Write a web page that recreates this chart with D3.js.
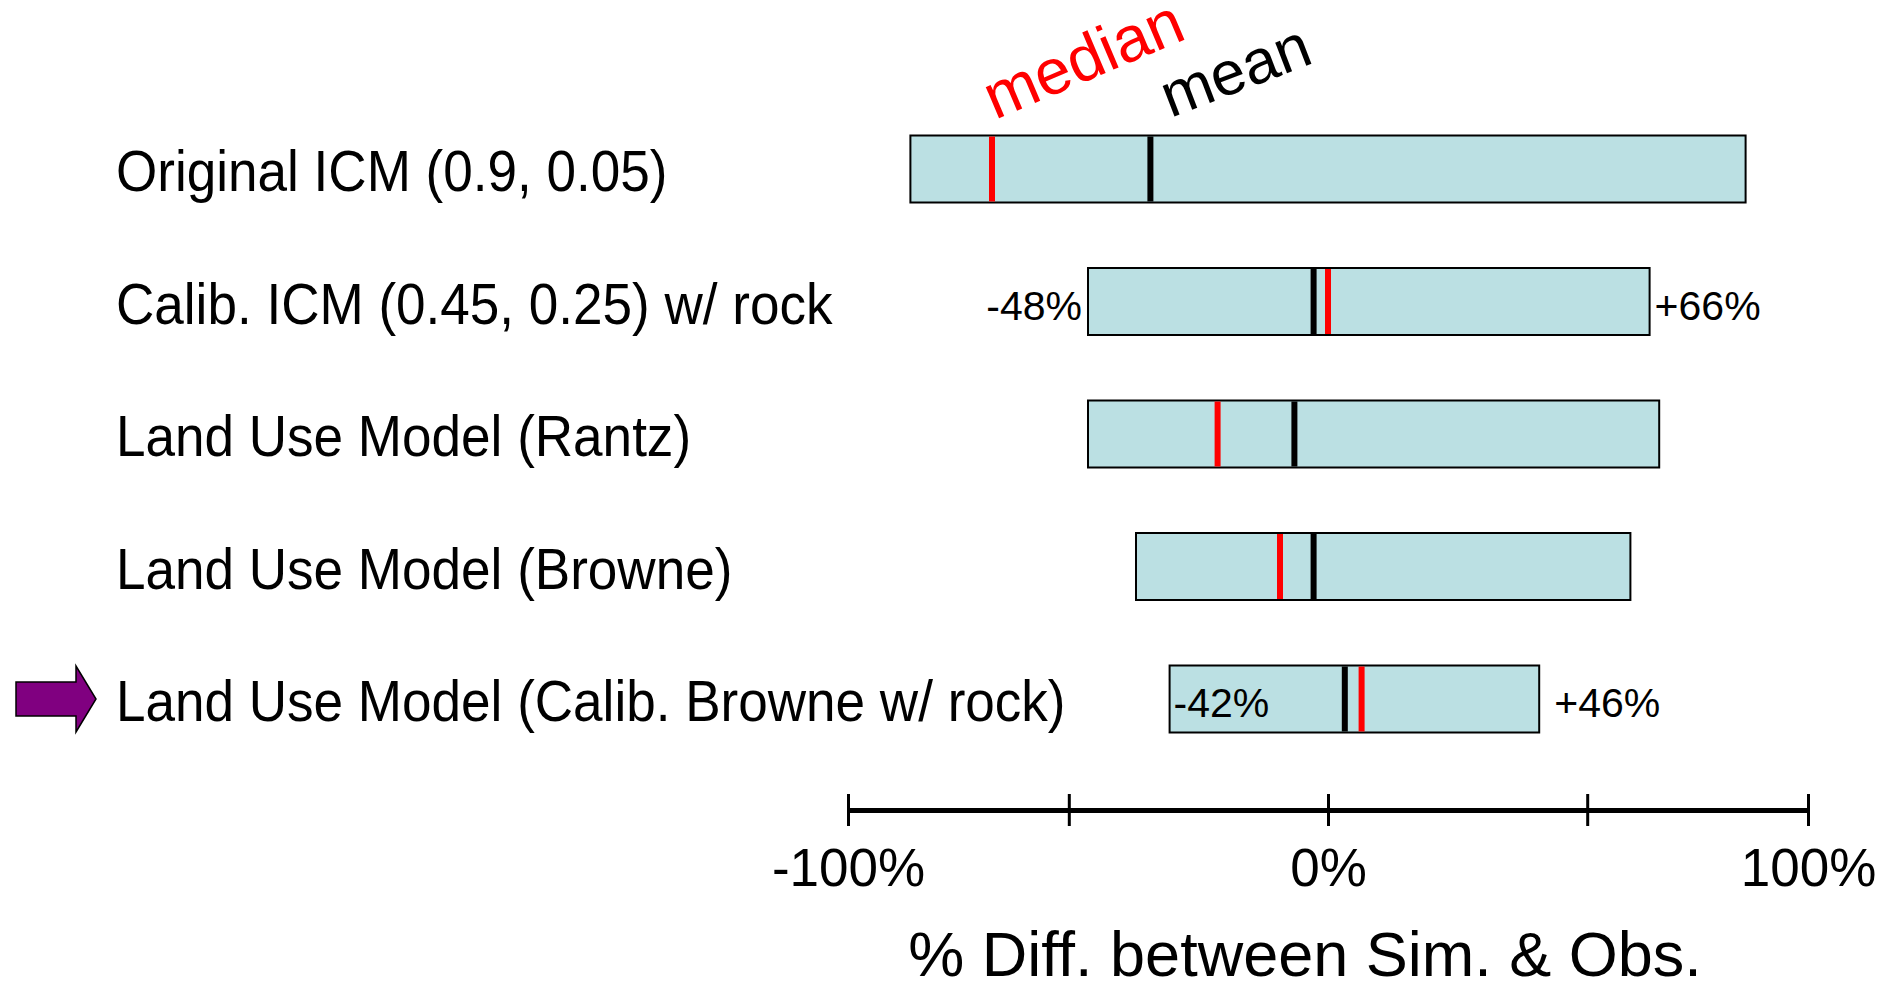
<!DOCTYPE html>
<html>
<head>
<meta charset="utf-8">
<script src="https://cdn.jsdelivr.net/npm/d3@7"></script>
<style>
  body { margin: 0; background: #fff; }
  text { font-family: "Liberation Sans", Arial, sans-serif; }
</style>
</head>
<body>
<svg id="drawing_region"></svg>
<script>
// model rows, top to bottom
const models = [
    "Original ICM (0.9, 0.05)",
    "Calib. ICM (0.45, 0.25) w/ rock",
    "Land Use Model (Rantz)",
    "Land Use Model (Browne)",
    "Land Use Model (Calib. Browne w/ rock)"
];
const lows    = [-87, -50, -50, -40, -33];
const highs   = [ 87,  67,  69,  63,  44];
const medians = [-70,   0, -23, -10,   7];
const means   = [-37,  -3,  -7,  -3, 3.5];
// printed range notes
const lowNotes  = [null, "-48%", null, null, "-42%"];
const highNotes = [null, "+66%", null, null, "+46%"];
const lowNoteInside = [false, false, false, false, true];
const highlightRow = 4;
// axis
const tickValues = [-100, -54, 0, 54, 100];
const tickLabels = ["-100%", "", "0%", "", "100%"];
const axisTitle = "% Diff. between Sim. & Obs.";

class RangeChart {

    constructor( config ) {
        this.config = config;
        this.data = models.map( (m, i) => ({
            label: m, low: lows[i], high: highs[i],
            median: medians[i], mean: means[i],
            lowNote: lowNotes[i], highNote: highNotes[i],
            inside: lowNoteInside[i]
        }));
        this.init();
    }

    init() {
        let self = this;

        self.svg = d3.select( self.config.parent )
            .attr('width', self.config.width)
            .attr('height', self.config.height);

        self.xscale = d3.scaleLinear()
            .domain([-100, 100])
            .range([848, 1808]);

        self.yscale = d3.scalePoint()
            .domain(models)
            .range([169, 699]);

        self.barh = 67;

        self.xaxis = d3.axisBottom( self.xscale )
            .tickValues( tickValues )
            .tickFormat( (d, i) => tickLabels[i] )
            .tickSizeOuter(0);
    }

    render() {
        let self = this;
        const h = self.barh;

        // row labels
        self.svg.selectAll(".row-label").data(self.data).enter()
            .append("text")
            .attr("class", "row-label")
            .attr("transform", d => `translate(116, ${self.yscale(d.label) + 22}) scale(0.915, 1)`)
            .attr("font-size", "58px")
            .attr("fill", "#000")
            .text(d => d.label);

        const rows = self.svg.selectAll(".row").data(self.data).enter()
            .append("g")
            .attr("class", "row")
            .attr("transform", d => `translate(0, ${self.yscale(d.label)})`);

        rows.append("rect")
            .attr("x", d => self.xscale(d.low))
            .attr("y", -h / 2)
            .attr("width", d => self.xscale(d.high) - self.xscale(d.low))
            .attr("height", h)
            .attr("fill", "#bbe0e3")
            .attr("stroke", "#000")
            .attr("stroke-width", 2);

        rows.append("line")
            .attr("x1", d => self.xscale(d.median))
            .attr("x2", d => self.xscale(d.median))
            .attr("y1", -h / 2 + 1)
            .attr("y2", h / 2 - 1)
            .attr("stroke", "#ff0000")
            .attr("stroke-width", 6);

        rows.append("line")
            .attr("x1", d => self.xscale(d.mean))
            .attr("x2", d => self.xscale(d.mean))
            .attr("y1", -h / 2 + 1)
            .attr("y2", h / 2 - 1)
            .attr("stroke", "#000")
            .attr("stroke-width", 6);

        rows.filter(d => d.lowNote)
            .append("text")
            .attr("x", d => d.inside ? self.xscale(d.low) + 4 : self.xscale(d.low) - 6)
            .attr("y", 18)
            .attr("text-anchor", d => d.inside ? "start" : "end")
            .attr("font-size", "41px")
            .text(d => d.lowNote);

        rows.filter(d => d.highNote)
            .append("text")
            .attr("x", d => self.xscale(d.high) + (d.inside ? 15 : 5))
            .attr("y", 18)
            .attr("font-size", "41px")
            .text(d => d.highNote);

        // arrow pointing at the highlighted row
        const ay = self.yscale(models[highlightRow]);
        self.svg.append("path")
            .attr("d", `M16,${ay - 17} H76 V${ay - 33} L96,${ay} L76,${ay + 33} V${ay + 17} H16 Z`)
            .attr("fill", "#800080")
            .attr("stroke", "#000")
            .attr("stroke-width", 1.5);

        // legend words above first bar
        const top = self.data[0];
        self.svg.append("text")
            .attr("transform", `translate(${self.xscale(top.median) + 3}, 120) rotate(-23)`)
            .attr("font-size", "64px")
            .attr("fill", "#ff0000")
            .text("median");

        self.svg.append("text")
            .attr("transform", `translate(${self.xscale(top.mean) + 20}, 118) rotate(-21)`)
            .attr("font-size", "62px")
            .attr("fill", "#000")
            .text("mean");

        // x axis
        const ax = self.svg.append("g")
            .attr("transform", "translate(0, 810)")
            .call( self.xaxis );
        ax.select(".domain").attr("stroke", "#000").attr("stroke-width", 5);
        ax.selectAll(".tick line")
            .attr("y1", -16).attr("y2", 16)
            .attr("stroke", "#000").attr("stroke-width", 3);
        ax.selectAll(".tick text")
            .filter((d, i) => tickLabels[i] === "")
            .remove();
        ax.selectAll(".tick text")
            .attr("y", 76).attr("dy", null)
            .attr("font-family", "Liberation Sans, Arial, sans-serif")
            .attr("font-size", "53px")
            .attr("fill", "#000");

        self.svg.append("text")
            .attr("x", 1305)
            .attr("y", 976)
            .attr("text-anchor", "middle")
            .attr("font-size", "63px")
            .text(axisTitle);
    }
}

const chart = new RangeChart({ parent: '#drawing_region', width: 1881, height: 983 });
chart.render();
</script>
</body>
</html>
